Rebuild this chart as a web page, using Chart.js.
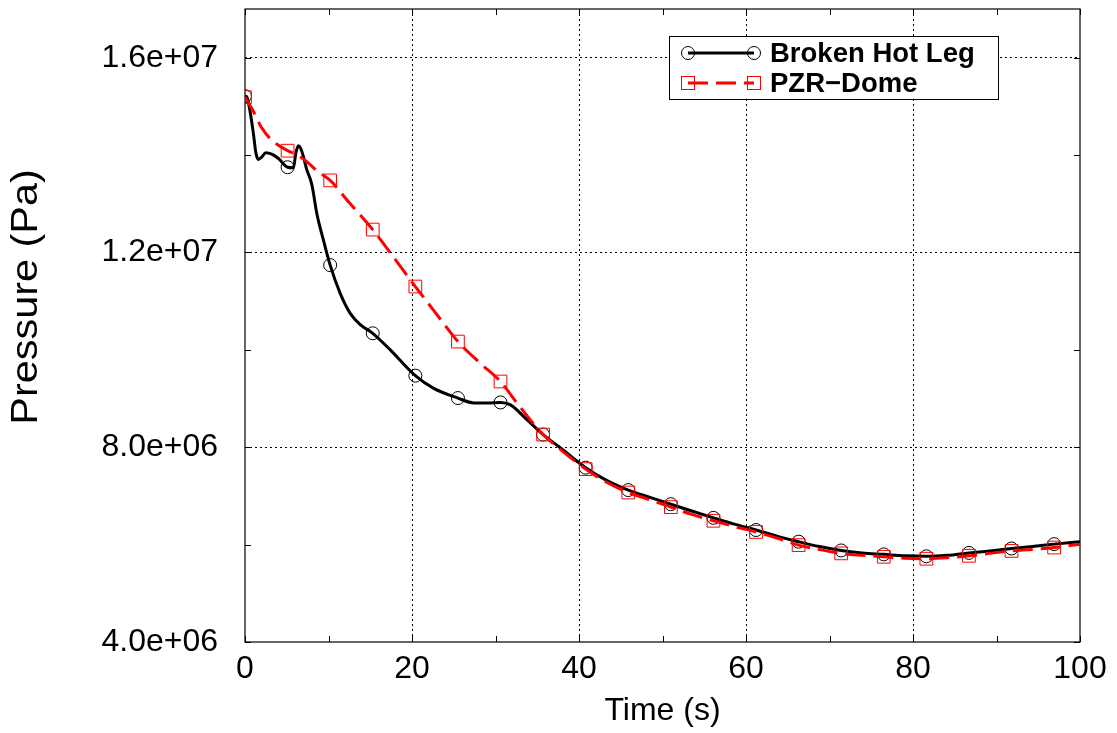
<!DOCTYPE html>
<html>
<head>
<meta charset="utf-8">
<script src="https://cdn.jsdelivr.net/npm/chart.js@4.4.0/dist/chart.umd.min.js"></script>
<style>
  html, body { margin: 0; padding: 0; background: #fff; }
  #wrap { width: 1117px; height: 733px; }
</style>
</head>
<body>
<div id="wrap"><canvas id="myChart"></canvas></div>
<script>
// Broken hot leg pressure (s, Pa)
var hot_t = [0, 0.2, 0.5, 1.0, 1.3, 1.6, 2.0, 2.5, 3.2, 4.0, 5.1, 5.8, 6.1, 6.4, 6.8, 7.4, 8.0, 8.6, 9.4, 10.2,
  11.4, 12.6, 13.8, 15.3, 17.4, 20.4, 22.6, 25.5, 27.4, 29.0, 30.6, 31.8, 33.8, 35.7, 37.6, 40.8, 43.3, 45.9,
  48.5, 51.0, 53.5, 56.1, 58.6, 61.2, 63.8, 66.3, 68.8, 71.4, 73.9, 76.5, 79.0, 81.6, 84.1, 86.7, 89.2, 91.8,
  94.3, 96.9, 100];
var hot_p = [15.21e6, 15.20e6, 15.00e6, 14.45e6, 14.05e6, 13.91e6, 13.96e6, 14.05e6, 14.02e6, 13.93e6, 13.75e6,
  13.74e6, 14.05e6, 14.19e6, 14.08e6, 13.70e6, 13.40e6, 12.80e6, 12.25e6, 11.74e6, 11.16e6, 10.75e6, 10.52e6,
  10.34e6, 10.00e6, 9.47e6, 9.21e6, 9.01e6, 8.91e6, 8.91e6, 8.92e6, 8.87e6, 8.56e6, 8.26e6, 8.01e6, 7.58e6,
  7.32e6, 7.12e6, 6.97e6, 6.83e6, 6.69e6, 6.55e6, 6.42e6, 6.30e6, 6.17e6, 6.06e6, 5.96e6, 5.88e6, 5.83e6,
  5.80e6, 5.77e6, 5.76e6, 5.78e6, 5.83e6, 5.87e6, 5.92e6, 5.96e6, 6.01e6, 6.06e6];

// PZR dome pressure (s, Pa)
var pzr_t = [0, 1.0, 2.0, 3.0, 4.0, 5.1, 6.5, 7.5, 8.6, 10.2, 12.5, 15.3, 17.8, 20.4, 23.0, 25.5, 28.0, 30.6,
  32.7, 35.7, 37.6, 40.8, 43.3, 45.9, 48.5, 51.0, 53.5, 56.1, 58.6, 61.2, 63.8, 66.3, 68.8, 71.4, 73.9, 76.5,
  79.0, 81.6, 84.1, 86.7, 89.2, 91.8, 94.3, 96.9, 100];
var pzr_p = [15.19e6, 14.90e6, 14.56e6, 14.34e6, 14.20e6, 14.09e6, 13.98e6, 13.85e6, 13.68e6, 13.48e6, 13.02e6,
  12.47e6, 11.90e6, 11.30e6, 10.72e6, 10.17e6, 9.75e6, 9.35e6, 8.88e6, 8.26e6, 7.98e6, 7.55e6, 7.28e6, 7.07e6,
  6.92e6, 6.77e6, 6.62e6, 6.49e6, 6.37e6, 6.26e6, 6.13e6, 5.99e6, 5.90e6, 5.82e6, 5.78e6, 5.75e6, 5.72e6,
  5.71e6, 5.73e6, 5.77e6, 5.82e6, 5.87e6, 5.90e6, 5.94e6, 6.01e6];

var marker_t = [0, 5.1, 10.2, 15.3, 20.4, 25.5, 30.6, 35.7, 40.8, 45.9, 51.0, 56.1, 61.2, 66.3, 71.4, 76.5,
  81.6, 86.7, 91.8, 96.9];

var series_names = ['Broken Hot Leg', 'PZR\u2212Dome'];
var x_ticks = [0, 20, 40, 60, 80, 100];
var x_minor = [10, 30, 50, 70, 90];
var y_ticks = [4e6, 8e6, 12e6, 16e6];
var y_tick_labels = ['4.0e+06', '8.0e+06', '1.2e+07', '1.6e+07'];
var y_minor = [6e6, 10e6, 14e6];
var y_title = 'Pressure (Pa)';

var FONT = "'Liberation Sans', Arial, Helvetica, sans-serif";

function to_points(ts, ps) {
  return ts.map(function(t, i) { return {x: t, y: ps[i]}; });
}

function marker_radius(r) {
  return function(ctx) {
    if (ctx.raw && marker_t.indexOf(ctx.raw.x) >= 0) return r;
    return 0;
  };
}

// frame + inward tick marks, gnuplot style
var framePlugin = {
  id: 'frame',
  beforeDatasetsDraw: function(chart) {
    var c = chart.ctx, a = chart.chartArea;
    var xs = chart.scales.x, ys = chart.scales.y;
    c.save();
    c.strokeStyle = '#000';
    c.lineWidth = 1.2;
    c.setLineDash([]);
    c.strokeRect(a.left, a.top, a.right - a.left, a.bottom - a.top);
    c.lineWidth = 1;
    c.beginPath();
    x_ticks.concat(x_minor).forEach(function(v) {
      var px = Math.round(xs.getPixelForValue(v)) + 0.5;
      c.moveTo(px, a.bottom); c.lineTo(px, a.bottom - 6);
      c.moveTo(px, a.top); c.lineTo(px, a.top + 6);
    });
    y_ticks.concat(y_minor).forEach(function(v) {
      var py = Math.round(ys.getPixelForValue(v)) + 0.5;
      c.moveTo(a.left, py); c.lineTo(a.left + 6, py);
      c.moveTo(a.right, py); c.lineTo(a.right - 6, py);
    });
    c.stroke();

    // y axis title, a bit stretched along its length like the original
    c.translate(27, 297);
    c.rotate(-Math.PI / 2);
    c.scale(1.15, 1);
    c.fillStyle = '#000';
    c.font = '36px ' + FONT;
    c.textAlign = 'center';
    c.textBaseline = 'middle';
    c.fillText(y_title, 0, 0);
    c.restore();
  }
};

var legendPlugin = {
  id: 'boxlegend',
  afterDraw: function(chart) {
    var c = chart.ctx;
    var bx = 669, by = 36, bw = 329, bh = 63;
    c.save();
    c.fillStyle = '#fff';
    c.fillRect(bx, by, bw, bh);
    c.strokeStyle = '#000';
    c.lineWidth = 1;
    c.strokeRect(bx + 0.5, by + 0.5, bw, bh);

    var rows = [53, 83];
    var x1 = 688, x2 = 754;
    // row 1: solid black with circles
    c.strokeStyle = '#000';
    c.lineWidth = 3;
    c.beginPath(); c.moveTo(x1, rows[0]); c.lineTo(x2, rows[0]); c.stroke();
    c.lineWidth = 1;
    [x1, x2].forEach(function(x) {
      c.beginPath(); c.arc(x, rows[0], 6.5, 0, Math.PI * 2); c.stroke();
    });
    // row 2: dashed red with squares
    c.strokeStyle = '#ff0000';
    c.lineWidth = 3;
    c.setLineDash([20, 8]);
    c.beginPath(); c.moveTo(x1, rows[1]); c.lineTo(x2, rows[1]); c.stroke();
    c.setLineDash([]);
    c.lineWidth = 1;
    [x1, x2].forEach(function(x) {
      c.strokeRect(x - 6.5, rows[1] - 6.5, 13, 13);
    });

    c.fillStyle = '#000';
    c.font = 'bold 27.5px ' + FONT;
    c.textBaseline = 'middle';
    c.textAlign = 'left';
    c.fillText(series_names[0], 770, rows[0] + 1);
    c.fillText(series_names[1], 770, rows[1] + 1);
    c.restore();
  }
};

var data = {
  datasets: [
    {
      label: series_names[0],
      data: to_points(hot_t, hot_p),
      borderColor: '#000',
      borderWidth: 3,
      backgroundColor: 'rgba(0,0,0,0)',
      pointStyle: 'circle',
      pointRadius: marker_radius(6.5),
      pointBorderColor: '#000',
      pointBorderWidth: 1,
      pointBackgroundColor: 'rgba(0,0,0,0)',
      cubicInterpolationMode: 'monotone',
      order: 2
    },
    {
      label: series_names[1],
      data: to_points(pzr_t, pzr_p),
      borderColor: '#ff0000',
      borderWidth: 3,
      borderDash: [20, 8],
      backgroundColor: 'rgba(0,0,0,0)',
      pointStyle: 'rect',
      pointRadius: marker_radius(9),
      pointBorderColor: '#ff0000',
      pointBorderWidth: 1,
      pointBackgroundColor: 'rgba(0,0,0,0)',
      cubicInterpolationMode: 'monotone',
      order: 1
    }
  ]
};

function grid_color(ends) {
  return function(ctx) {
    if (ctx.tick && ends.indexOf(ctx.tick.value) >= 0) return 'rgba(0,0,0,0)';
    return '#000';
  };
}

var config = {
  type: 'line',
  data: data,
  options: {
    responsive: true,
    maintainAspectRatio: false,
    animation: false,
    events: [],
    layout: { padding: { left: 0, top: 9, right: 37, bottom: 0 }, autoPadding: false },
    plugins: {
      legend: { display: false },
      tooltip: { enabled: false }
    },
    scales: {
      x: {
        type: 'linear',
        min: 0,
        max: 100,
        afterBuildTicks: function(s) { s.ticks = x_ticks.map(function(v) { return {value: v}; }); },
        afterFit: function(s) { s.height = 91; s.paddingLeft = 0; s.paddingRight = 0; },
        ticks: {
          color: '#000',
          font: { family: FONT, size: 32 },
          padding: 8,
          maxRotation: 0,
          autoSkip: false,
          callback: function(v) { return String(v); }
        },
        grid: { color: grid_color([0, 100]), lineWidth: 1, drawTicks: false },
        border: { display: false, dash: [2, 3] },
        title: {
          display: true,
          text: 'Time (s)',
          color: '#000',
          font: { family: FONT, size: 32 },
          padding: { top: 0, bottom: 3 }
        }
      },
      y: {
        type: 'linear',
        min: 4e6,
        max: 17e6,
        afterBuildTicks: function(s) { s.ticks = y_ticks.map(function(v) { return {value: v}; }); },
        afterFit: function(s) { s.width = 245; s.paddingTop = 0; s.paddingBottom = 0; },
        ticks: {
          color: '#000',
          font: { family: FONT, size: 32 },
          padding: 27,
          autoSkip: false,
          callback: function(v) { return y_tick_labels[y_ticks.indexOf(v)]; }
        },
        grid: { color: grid_color([4e6]), lineWidth: 1, drawTicks: false },
        border: { display: false, dash: [2, 3] },
        title: { display: false }
      }
    }
  },
  plugins: [framePlugin, legendPlugin]
};

var myChart = new Chart(document.getElementById('myChart'), config);
</script>
</body>
</html>
